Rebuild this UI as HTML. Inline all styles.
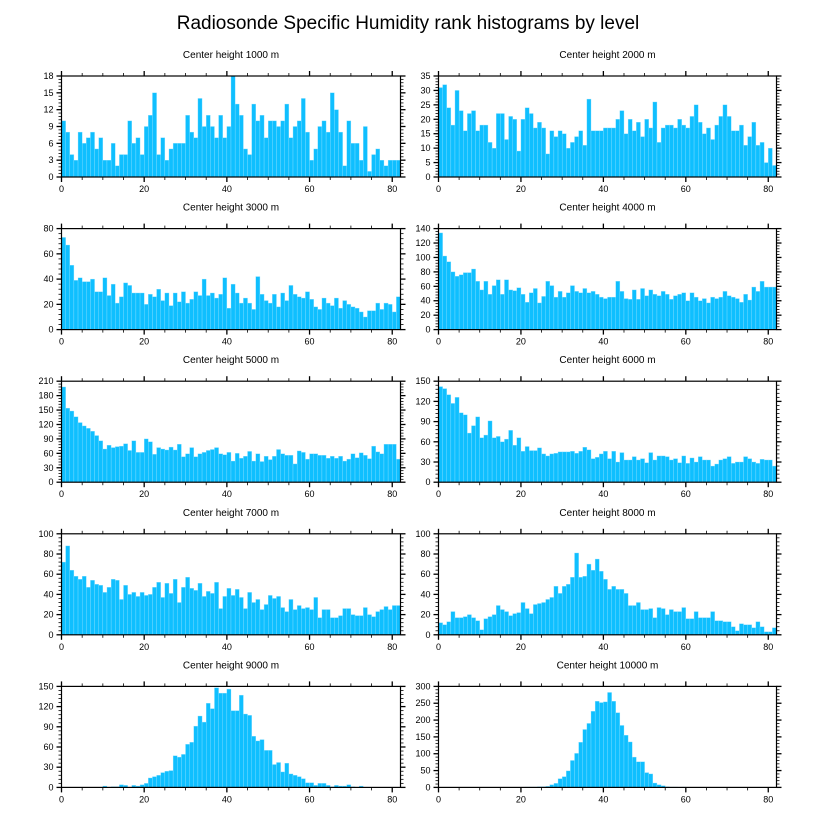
<!DOCTYPE html>
<html><head><meta charset="utf-8"><style>
html,body{margin:0;padding:0;background:#fff;}
svg{display:block;font-family:"Liberation Sans",sans-serif;}
</style></head><body>
<svg id="chart" width="816" height="824" viewBox="0 0 816 824" xmlns="http://www.w3.org/2000/svg">
<text x="408" y="29" text-anchor="middle" font-size="19">Radiosonde Specific Humidity rank histograms by level</text>
</svg>
<script>
const xTicks = [0, 20, 40, 60, 80];
const titles = ["Center height 1000 m","Center height 2000 m","Center height 3000 m","Center height 4000 m","Center height 5000 m","Center height 6000 m","Center height 7000 m","Center height 8000 m","Center height 9000 m","Center height 10000 m"];
const yMax = [18, 35, 80, 140, 210, 150, 100, 100, 150, 300];
const yStep = [3, 5, 20, 20, 30, 30, 20, 20, 30, 50];
const h1000 = [10,8,4,3,8,6,7,8,5,7,3,3,6,2,4,4,10,6,7,4,9,11,15,4,7,3,5,6,6,6,11,8,7,14,9,11,9,7,11,7,9,18,13,11,5,4,13,10,11,7,10,10,9,10,13,7,9,10,14,8,3,5,9,10,8,15,12,8,2,10,6,6,3,9,1,4,5,3,2,3,3,3];
const h2000 = [31,32,24,18,30,23,16,22,23,16,18,18,12,10,22,22,13,21,20,9,20,24,22,17,19,17,8,16,14,16,15,10,12,14,16,11,27,16,16,16,17,17,17,20,23,15,20,16,19,14,20,17,26,12,17,18,18,17,20,18,17,21,25,19,15,17,13,18,21,25,21,16,16,18,11,14,19,11,12,5,10,4];
const h3000 = [73,67,51,39,41,38,38,40,30,30,41,27,36,21,26,37,35,29,29,29,20,28,26,32,23,29,19,29,22,30,21,24,30,27,40,27,29,25,28,41,17,36,29,21,25,21,16,42,28,23,21,28,18,29,23,35,28,26,25,30,24,18,16,25,21,19,25,17,23,20,18,17,14,10,15,15,21,16,21,20,14,26];
const h4000 = [134,102,94,80,74,76,79,79,84,67,55,67,49,61,69,49,69,55,54,58,49,38,51,57,37,46,67,61,45,53,45,51,61,53,51,57,51,53,49,45,43,45,45,67,53,43,42,55,42,57,47,55,49,47,53,49,42,47,49,51,40,51,45,40,43,37,45,43,45,53,47,45,43,38,49,41,59,53,67,59,59,59];
const h5000 = [198,154,148,136,124,117,112,106,97,86,69,77,72,74,75,80,66,86,62,62,90,84,58,72,69,67,73,67,79,53,59,72,53,59,62,66,68,72,59,57,62,44,60,50,54,64,44,59,43,54,47,54,68,59,56,56,38,65,62,48,59,59,56,56,50,54,50,54,44,48,59,51,61,56,49,75,63,59,79,79,79,48];
const h6000 = [142,139,130,117,126,103,100,73,84,97,66,70,91,66,68,60,64,77,55,66,46,53,47,47,51,42,39,42,43,45,45,45,46,43,46,52,48,35,37,42,46,35,46,30,44,33,33,38,33,35,29,44,33,39,39,38,33,35,29,39,28,36,30,38,33,33,24,27,33,35,38,28,30,30,38,35,30,28,34,33,33,24];
const h7000 = [72,88,64,58,55,58,47,54,50,49,42,47,55,54,35,49,40,42,38,42,39,40,47,52,37,51,41,55,32,47,57,46,44,51,38,43,41,52,26,38,46,39,45,37,26,42,32,35,25,30,39,36,38,27,23,35,25,29,26,27,25,37,17,25,25,17,17,19,26,26,20,19,19,27,20,18,23,25,28,25,29,29];
const h8000 = [12,10,13,23,17,17,18,20,17,14,5,16,18,20,29,25,23,19,21,22,32,26,21,30,31,32,35,37,48,41,48,50,57,81,57,58,70,64,75,63,55,45,48,45,45,41,29,29,32,25,25,26,17,27,26,20,25,23,23,27,16,16,23,17,17,17,23,14,14,13,13,8,4,11,10,10,7,13,8,3,3,7];
const h9000 = [0,0,0,0,0,0,0,0,0,0,2,0,1,1,4,3,0,3,2,4,6,14,16,18,22,24,25,47,45,49,64,67,91,106,97,125,117,148,140,140,146,114,114,137,109,107,76,69,71,55,55,34,37,23,36,20,18,16,13,7,7,3,6,6,3,1,3,2,2,4,1,0,2,0,0,0,0,0,0,0,0,0];
const h10000 = [0,0,0,0,0,0,0,0,0,0,0,0,0,0,0,0,0,0,0,0,0,1,1,1,2,2,3,8,12,26,32,49,80,101,134,172,190,226,256,252,254,282,256,222,184,155,135,90,76,76,44,40,13,8,5,2,1,1,0,1,0,0,0,0,0,0,0,0,0,0,0,0,0,0,0,0,0,0,0,0,0,0];
const series = [h1000,h2000,h3000,h4000,h5000,h6000,h7000,h8000,h9000,h10000];

const NS = "http://www.w3.org/2000/svg";
const svg = document.getElementById("chart");
const XMAX = 82;
function mk(tag, attrs, parent) {
  const e = document.createElementNS(NS, tag);
  for (const k in attrs) e.setAttribute(k, attrs[k]);
  parent.appendChild(e);
  return e;
}
for (let p = 0; p < 10; p++) {
  const col = p % 2, row = Math.floor(p / 2);
  const L = col ? 438.5 : 61.5, R = col ? 776.5 : 400.5;
  const T = 76 + row * 152.6, B = T + 101;
  const xs = v => L + (v / XMAX) * (R - L);
  const ys = v => B - (v / yMax[p]) * (B - T);
  const g = mk("g", {}, svg);
  
  
  const tt = mk("text", {x: (L + R) / 2, y: T - 18, "text-anchor": "middle", "font-size": "10"}, g);
  tt.textContent = titles[p];
  
  
  const data = series[p];
  for (let i = 0; i < data.length; i++) {
    if (data[i] <= 0) continue;
    const x0 = xs(i), x1 = xs(i + 1);
    const r = mk("rect", {x: x0, y: ys(data[i]), width: x1 - x0, height: B - ys(data[i]), fill: "#0fbfff", stroke: "#8fe0ff", "stroke-width": "0.35"}, g);
    
    
  }
  const fr = mk("rect", {x: L, y: T, width: R - L, height: B - T, fill: "none", stroke: "#000", "stroke-width": "1.2"}, g);
  
  
  for (let v = 0; v <= 80; v += 5) {
    const major = v % 20 === 0;
    const len = major ? 5 : 3;
    mk("line", {x1: xs(v), x2: xs(v), y1: B, y2: B + len, stroke: "#000", "stroke-width": major ? 1.3 : 0.8}, g);
    mk("line", {x1: xs(v), x2: xs(v), y1: T, y2: T - len, stroke: "#000", "stroke-width": major ? 1.3 : 0.8}, g);
  }
  for (const v of xTicks) {
    const t = mk("text", {x: xs(v), y: B + 15, "text-anchor": "middle", "font-size": "9"}, g);
    t.textContent = v;
    
    
  }
  const minor = yStep[p] / 5;
  for (let k = 0; k * minor <= yMax[p] + 1e-9; k++) {
    const v = k * minor;
    const major = k % 5 === 0;
    const len = major ? 5 : 3;
    mk("line", {x1: L, x2: L - len, y1: ys(v), y2: ys(v), stroke: "#000", "stroke-width": major ? 1.3 : 0.8}, g);
    mk("line", {x1: R, x2: R + len, y1: ys(v), y2: ys(v), stroke: "#000", "stroke-width": major ? 1.3 : 0.8}, g);
  }
  for (let v = 0; v <= yMax[p] + 1e-9; v += yStep[p]) {
    const t = mk("text", {x: L - 8, y: ys(v) + 3, "text-anchor": "end", "font-size": "9"}, g);
    t.textContent = v;
    
    
  }
}
</script>
</body></html>
